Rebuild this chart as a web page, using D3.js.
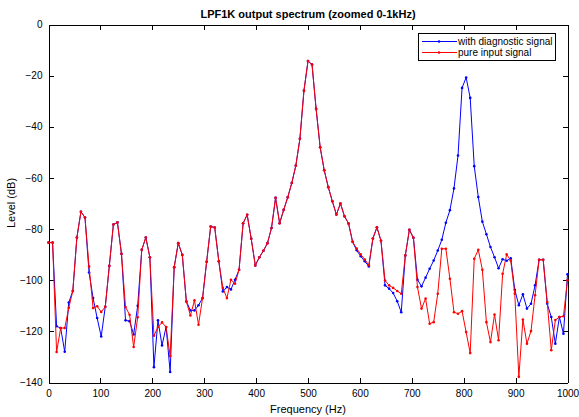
<!DOCTYPE html>
<html>
<head>
<meta charset="utf-8">
<script src="https://cdn.jsdelivr.net/npm/d3@7"></script>
<style>
  body { margin: 0; background: #fff; }
  svg { display: block; font-family: "Liberation Sans", Arial, sans-serif; }
</style>
</head>
<body>
<svg id="chart" width="579" height="417"></svg>
<script>
// FFT bins, 0..1000 Hz
const binHz = 7.8125;

// level (dB) per bin, with the diagnostic signal added
const diagLevels = [
  -85.3, -85.3, -118, -118.7, -128, -108.7, -104.2, -83.3, -73.2, -75.5,
  -97, -107, -114.8, -122, -110.4, -94.4, -78.2, -77.4, -89.7, -115.7,
  -116, -121.2, -110, -88.1, -83.3, -91, -134, -115.7, -125.5, -118.3,
  -135.9, -94.9, -85.5, -90.1, -108.3, -111.8, -111.8, -109.8, -107, -92.8,
  -79, -79.4, -92.6, -104.4, -102.7, -103.6, -99.8, -95.9, -77.7, -74.4,
  -83.8, -94.2, -91, -88.5, -85.5, -79.6, -67.8, -77.7, -72.5, -67.6,
  -62, -55.2, -44.7, -25.9, -14.3, -15.7, -33, -48, -57, -63.6,
  -69.1, -74.3, -70, -75, -77.8, -85, -88.3, -90.6, -92.6, -94.6,
  -83.7, -79.3, -84.6, -102, -103.3, -105, -108.2, -112.5, -90.3, -80.3,
  -83.4, -99.8, -102.4, -99, -95.5, -92.3, -88.4, -84.2, -77.5, -72.6,
  -64.1, -51.2, -24.8, -20.7, -28.7, -55.4, -67.5, -77.1, -82, -87,
  -91, -95.3, -91.8, -92.4, -91.4, -103.7, -109.8, -105.5, -111.1, -109.2,
  -102, -92, -92, -109.2, -114.4, -124.8, -114.4, -120.9, -97.7
];

// level (dB) per bin, pure input only
const pureLevels = [
  -85.3, -85.3, -128.1, -118.7, -118.7, -110.8, -104.2, -83.3, -73.2, -75.5,
  -94.6, -110.9, -110.2, -112.4, -110.4, -94.4, -78.2, -77.4, -89.7, -110.5,
  -113.5, -126.1, -114.5, -88.1, -83.3, -91, -121.7, -118.3, -116.5, -118.3,
  -129.7, -94.9, -85.5, -90.1, -108.3, -113.8, -107.9, -117.4, -107, -92.8,
  -79, -79.4, -92.6, -103, -107, -99.8, -101.4, -95.9, -77.7, -74.4,
  -83.8, -94.2, -91, -88.5, -85.5, -79.6, -67.8, -77.7, -72.5, -67.6,
  -62, -55.2, -44.7, -25.9, -14.3, -15.7, -33, -48, -57, -63.6,
  -69.1, -74.3, -70, -75, -77.8, -85, -87.6, -89.9, -91.9, -94.1,
  -83.7, -79.3, -84.6, -100.1, -102, -103, -104.2, -105.3, -90.3, -80.3,
  -83.4, -102.7, -111.1, -107.2, -117, -116.4, -105.3, -87.7, -87.7, -99.4,
  -112.5, -113.1, -112.1, -120.3, -128.5, -91.6, -88.1, -95.9, -116.4, -124.2,
  -113.4, -123.5, -97.5, -89.9, -92.3, -105.3, -137.8, -115.4, -124.8, -119.9,
  -105.9, -92, -92, -108.5, -127.4, -115.6, -114.4, -114.1, -100
];

const xTicks = [0, 100, 200, 300, 400, 500, 600, 700, 800, 900, 1000];
const yTicks = [-140, -120, -100, -80, -60, -40, -20, 0];
const seriesNames = ["with diagnostic signal", "pure input signal"];
const seriesColors = ["#0000ff", "#ff0000"];

const svg = d3.select("#chart");
svg.append("rect").attr("width", 579).attr("height", 417).attr("fill", "#fff");

let x = d3.scaleLinear().domain([0, 1000]).range([48.5, 567.5]);
let y = d3.scaleLinear().domain([-140, 0]).range([382.5, 24.5]);

// axes, MATLAB style ticks pointing inward
let xAxis = d3.axisBottom(x).tickValues(xTicks).tickFormat(d3.format("d"))
  .tickSizeInner(-5).tickSizeOuter(0).tickPadding(7);
let yAxis = d3.axisLeft(y).tickValues(yTicks).tickFormat(d3.format("d"))
  .tickSizeInner(-5).tickSizeOuter(0).tickPadding(6);

svg.append("g").attr("transform", "translate(0,382.5)").call(xAxis);
svg.append("g").attr("transform", "translate(48.5,0)").call(yAxis);
svg.append("g").attr("transform", "translate(0,24.5)")
  .call(d3.axisTop(x).tickValues(xTicks).tickSizeInner(-5).tickSizeOuter(0).tickFormat(""));
svg.append("g").attr("transform", "translate(567.5,0)")
  .call(d3.axisRight(y).tickValues(yTicks).tickSizeInner(-5).tickSizeOuter(0).tickFormat(""));

svg.selectAll(".domain, .tick line").attr("stroke", "#000").attr("shape-rendering", "crispEdges");
svg.selectAll(".tick text").attr("font-size", 10).attr("fill", "#000")
  .attr("font-family", "'Liberation Sans', Arial, sans-serif");

// spectra: blue first, red drawn over it
let line = d3.line().x((d, i) => x(i * binHz)).y(d => y(d));
[diagLevels, pureLevels].forEach((levels, s) => {
  svg.append("path")
    .attr("d", line(levels))
    .attr("fill", "none")
    .attr("stroke", seriesColors[s])
    .attr("stroke-width", 1);
  svg.append("g").selectAll("circle")
    .data(levels)
    .join("circle")
    .attr("cx", (d, i) => x(i * binHz))
    .attr("cy", d => y(d))
    .attr("r", 1.3)
    .attr("fill", seriesColors[s]);
});

// title and labels
svg.append("text").attr("x", 308).attr("y", 18).attr("text-anchor", "middle")
  .attr("font-size", 11).attr("font-weight", "bold")
  .text("LPF1K output spectrum (zoomed 0-1kHz)");
svg.append("text").attr("x", 308).attr("y", 413).attr("text-anchor", "middle")
  .attr("font-size", 11).text("Frequency (Hz)");
svg.append("text").attr("transform", "translate(15,203) rotate(-90)").attr("text-anchor", "middle")
  .attr("font-size", 11).text("Level (dB)");

// legend
let legend = svg.append("g");
legend.append("rect").attr("x", 418.5).attr("y", 33.5).attr("width", 137).attr("height", 27)
  .attr("fill", "#fff").attr("stroke", "#000").attr("shape-rendering", "crispEdges");
seriesNames.forEach((name, s) => {
  let ly = 41.5 + s * 11;
  legend.append("line").attr("x1", 422).attr("x2", 457).attr("y1", ly).attr("y2", ly)
    .attr("stroke", seriesColors[s]);
  legend.append("circle").attr("cx", 439).attr("cy", ly).attr("r", 1.3).attr("fill", seriesColors[s]);
  legend.append("text").attr("x", 458).attr("y", ly + 3.5).attr("font-size", 10).text(name);
});
</script>
</body>
</html>
